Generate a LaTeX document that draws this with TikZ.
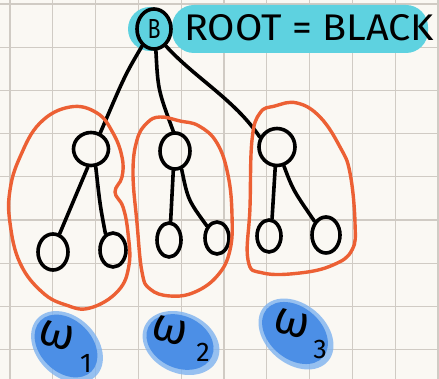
\documentclass[tikz,border=0pt]{standalone}
\usepackage{fontspec}
\setmainfont{Fira Sans}
\usetikzlibrary{shapes.geometric}
\definecolor{paper}{RGB}{250,248,243}
\definecolor{gridc}{RGB}{208,203,196}
\definecolor{loopc}{RGB}{236,96,52}
\definecolor{hilite}{RGB}{94,210,224}
\definecolor{blob}{RGB}{76,143,230}
\definecolor{blobhalo}{RGB}{126,178,240}

\begin{document}
\begin{tikzpicture}[x=1pt,y=-1pt,
  pen/.style={line width=3.6pt, line cap=round, line join=round},
  vert/.style={ellipse, draw, line width=3.6pt, inner sep=0pt},
  grp/.style={draw=loopc, line width=3.4pt, line join=round},
  halo/.style={fill=blobhalo, opacity=0.8},
  core/.style={fill=blob},
  wsym/.style={font=\fontsize{46}{46}\selectfont, inner sep=0pt, rotate=-15},
  widx/.style={font=\fontsize{27}{27}\selectfont, inner sep=0pt}]
\useasboundingbox (0,0) rectangle (439,379);
% squared paper
\fill[paper] (0,0) rectangle (439,379);
\foreach \i in {0,...,10} \draw[gridc, line width=1.2pt] ({10+42.8*\i},0) -- ({10+42.8*\i},379);
\foreach \j in {0,...,8} \draw[gridc, line width=1.2pt] (0,{4+43.2*\j}) -- (439,{4+43.2*\j});

% highlighter behind the root and its caption
\fill[hilite] (150,29) circle (22);
\fill[hilite, rounded corners=22pt] (172,5) rectangle (428,53);

% vertices
\node[vert, minimum width=34pt, minimum height=40pt] (root) at (154,29) {\resizebox{13pt}{19pt}{B}};
\node[anchor=west, inner sep=0pt] (cap) at (184,28) {\resizebox{250pt}{26pt}{ROOT = BLACK}};

\node[vert, minimum width=35pt, minimum height=33pt] (c1) at (91,149) {};
\node[vert, minimum width=30pt, minimum height=36pt] (c2) at (175,151) {};
\node[vert, minimum width=36pt, minimum height=37pt] (c3) at (277,147) {};

\node[vert, minimum width=30pt, minimum height=36pt] (g1) at (53,252) {};
\node[vert, minimum width=26pt, minimum height=34pt] (g2) at (113,250) {};
\node[vert, minimum width=24pt, minimum height=34pt] (g3) at (169,240) {};
\node[vert, minimum width=24pt, minimum height=32pt] (g4) at (217,238) {};
\node[vert, minimum width=24pt, minimum height=32pt] (g5) at (269,236) {};
\node[vert, minimum width=28pt, minimum height=36pt] (g6) at (326,235) {};

% edges
\draw[pen] (root.235) .. controls (125,75) .. (c1.60);
\draw[pen] (root.275) .. controls (158,90) .. (c2.95);
\draw[pen] (root.305) .. controls (195,78) and (235,100) .. (c3.150);

\draw[pen] (c1.260) -- (g1.70);
\draw[pen] (c1.285) .. controls (100,205) .. (g2.115);
\draw[pen] (c2.265) -- (g3.85);
\draw[pen] (c2.290) .. controls (188,200) .. (g4.130);
\draw[pen] (c3.265) -- (g5.80);
\draw[pen] (c3.290) .. controls (293,190) .. (g6.130);

% groups of subtrees
\draw[grp] plot[smooth cycle, tension=0.7] coordinates {
  (70,107) (97,113) (113,133) (122,157) (122,177) (115,192) (123,207)
  (128,233) (129,265) (118,291) (90,308) (66,305) (42,292) (20,263)
  (10,223) (10,190) (20,157) (40,123)};
\draw[grp] plot[smooth cycle, tension=0.7] coordinates {
  (160,117) (180,121) (199,126) (217,143) (228,175) (232,215) (230,250)
  (218,275) (195,292) (170,296) (150,289) (142,272) (137,223) (133,173)
  (137,140) (147,123)};
\draw[grp] plot[smooth cycle, tension=0.7] coordinates {
  (297,103) (320,117) (340,147) (350,173) (355,223) (352,250) (333,265)
  (300,273) (263,273) (248,260) (250,207) (252,140) (260,113) (275,106)};

% weight blobs
\fill[halo, rotate around={-45:(67,347)}] (67,347) ellipse (41 and 30);
\fill[core, rotate around={-45:(66,346)}] (66,346) ellipse (36 and 26);
\fill[halo, rotate around={-25:(181,343)}] (181,343) ellipse (40 and 30);
\fill[core, rotate around={-25:(180,342)}] (180,342) ellipse (35 and 26);
\fill[halo, rotate around={-40:(296,334)}] (296,334) ellipse (42 and 30);
\fill[core, rotate around={-40:(295,333)}] (295,333) ellipse (37 and 26);

% weight labels
\node[wsym] (w1) at (57,336) {ω};
\node[widx] (i1) at (86,363) {1};
\node[wsym] (w2) at (170,331) {ω};
\node[widx] (i2) at (203,352) {2};
\node[wsym] (w3) at (292,324) {ω};
\node[widx] (i3) at (320,349) {3};
\end{tikzpicture}
\end{document}
